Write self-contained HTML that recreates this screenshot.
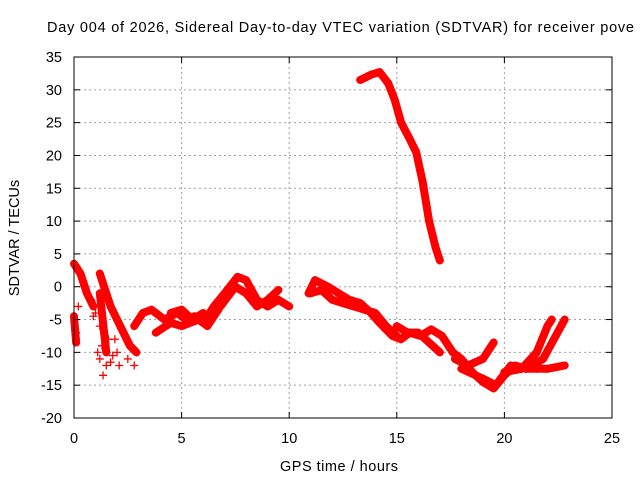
<!DOCTYPE html>
<html><head><meta charset="utf-8"><style>
html,body{margin:0;padding:0;background:#fff;}
svg{display:block;font-family:"Liberation Sans",sans-serif;}
</style></head><body>
<svg id="c" width="640" height="480">
<text x="47" y="32" font-size="14.5" textLength="587" lengthAdjust="spacing" fill="#000">Day 004 of 2026, Sidereal Day-to-day VTEC variation (SDTVAR) for receiver pove</text>
<g id="grid"></g><g id="data"></g><g id="axes"></g>
<text x="280" y="471" font-size="14.5" textLength="118" lengthAdjust="spacing">GPS time / hours</text>
<text transform="translate(19,238) rotate(-90)" font-size="14.5" text-anchor="middle">SDTVAR / TECUs</text>
</svg>
<script>
const xTicks=[0,5,10,15,20,25];
const yTicks=[-20,-15,-10,-5,0,5,10,15,20,25,30,35];
const traceA=[[13.3,31.5],[13.8,32.3],[14.2,32.7],[14.6,31],[14.9,28.5],[15.2,25],[15.6,22.5],[15.9,20.5],[16.2,16],[16.5,10],[16.8,6],[17,4]];
const trace1=[[0,3.5],[0.3,2],[0.6,-1],[0.9,-3]];
const trace1b=[[0,-4.5],[0.05,-6.5],[0.1,-8.5]];
const trace2=[[1.2,2],[1.4,0],[1.7,-3],[2.0,-5],[2.3,-7],[2.6,-9],[2.9,-10]];
const trace2b=[[1.2,-1],[1.3,-4],[1.4,-7],[1.5,-10]];
const scatterPts=[[1.2,-6],[1.3,-9],[1.35,-13.5],[1.5,-12],[1.7,-11.5],[1.9,-8],[2.2,-6.5],[1.0,-4],[1.1,-10],[2.0,-10],[2.5,-11],[2.8,-12],[0.9,-4.5],[1.6,-8],[0.2,-3],[0.1,-7],[1.8,-10.5],[2.1,-12],[1.2,-11],[0.8,-2]];
const trace3=[[2.8,-6],[3.2,-4],[3.6,-3.5],[4.2,-5],[4.8,-4],[5.2,-5],[5.6,-4.5],[6,-5.5],[6.5,-3],[7,-1],[7.6,1.5],[8,1],[8.5,-2],[9,-3],[9.5,-2],[10,-3]];
const trace4=[[3.8,-7],[4.5,-5.5],[5,-6],[5.8,-5],[6.2,-6],[6.8,-3],[7.5,0],[8,-1],[8.5,-3],[9,-2],[9.5,-0.5]];
const trace4b=[[4.5,-4],[5,-3.5],[5.5,-5],[6,-4]];
const trace5=[[10.9,-1],[11.2,1],[11.8,0],[12.3,-1],[12.8,-2],[13.3,-2.5],[13.8,-4],[14.2,-5.5],[14.8,-7.5],[15.2,-8],[15.6,-7],[16.1,-7.5],[16.6,-6.5],[17.1,-7.5],[17.6,-10],[18,-11],[18.5,-13],[19,-14.5],[19.5,-15.5],[20,-13.5],[20.5,-12],[21,-12.5],[21.5,-12.5],[22,-12.5],[22.8,-12]];
const trace6=[[11,-1],[11.5,-0.5],[12,-2],[12.5,-2.5],[13,-3],[13.5,-3.5],[14,-4],[14.5,-6],[15,-7.5]];
const trace7=[[15,-6],[15.5,-7],[16,-7],[16.5,-8.5],[17,-10]];
const trace8=[[17.7,-11],[18.3,-12],[19,-11],[19.5,-8.5]];
const trace9=[[18,-12.5],[19,-14],[19.6,-15],[20.3,-12],[21,-12.5]];
const trace10=[[20,-13],[20.8,-12.5],[21.5,-10],[22,-6],[22.2,-5]];
const trace11=[[21,-12.5],[21.8,-11],[22.3,-8],[22.8,-5]];
const traces=[traceA,trace1,trace1b,trace2,trace2b,trace3,trace4,trace4b,trace5,trace6,trace7,trace8,trace9,trace10,trace11];

const X0=74,X1=612,Y0=418,Y1=57;
const sx=v=>X0+(v-0)/(25-0)*(X1-X0);
const sy=v=>Y0-(v+20)/(55)*(Y0-Y1);
const NS="http://www.w3.org/2000/svg";
function mk(t,a,p){const e=document.createElementNS(NS,t);for(const k in a)e.setAttribute(k,a[k]);p.appendChild(e);return e;}
const grid=document.getElementById('grid'),axes=document.getElementById('axes'),data=document.getElementById('data');
xTicks.forEach(t=>{
  const x=sx(t);
  if(t>0&&t<25){const g=mk('line',{x1:x,x2:x,y1:Y1,y2:Y0,stroke:'#a0a0a0','stroke-dasharray':'2,3'},grid);
  
  }
  mk('line',{x1:x,x2:x,y1:Y0,y2:Y0-6,stroke:'#000'},axes);
  mk('line',{x1:x,x2:x,y1:Y1,y2:Y1+6,stroke:'#000'},axes);
  const l=mk('text',{x:x,y:443,'font-size':14.5,'text-anchor':'middle'},axes);l.textContent=t;
  
  
});
yTicks.forEach(t=>{
  const y=sy(t);
  if(t>-20&&t<35){const g=mk('line',{x1:X0,x2:X1,y1:y,y2:y,stroke:'#a0a0a0','stroke-dasharray':'2,3'},grid);
  
  }
  mk('line',{x1:X0,x2:X0+6,y1:y,y2:y,stroke:'#000'},axes);
  mk('line',{x1:X1,x2:X1-6,y1:y,y2:y,stroke:'#000'},axes);
  const l=mk('text',{x:62,y:y+5,'font-size':14.5,'text-anchor':'end'},axes);l.textContent=t;
  
  
});
const fr=mk('rect',{x:X0,y:Y1,width:X1-X0,height:Y0-Y1,fill:'none',stroke:'#000'},axes);


function cross(x,y){mk('path',{d:`M${x-4},${y}H${x+4}M${x},${y-4}V${y+4}`,stroke:'#f00','stroke-width':1.3},data);}
traces.forEach(tr=>{
  const pl=mk('polyline',{points:tr.map(p=>sx(p[0])+','+sy(p[1])).join(' '),fill:'none',stroke:'#f00','stroke-width':8,'stroke-linejoin':'round','stroke-linecap':'round'},data);
  
  
  tr.forEach(p=>cross(sx(p[0]),sy(p[1])));
});
scatterPts.forEach(p=>cross(sx(p[0]),sy(p[1])));
</script>
</body></html>
